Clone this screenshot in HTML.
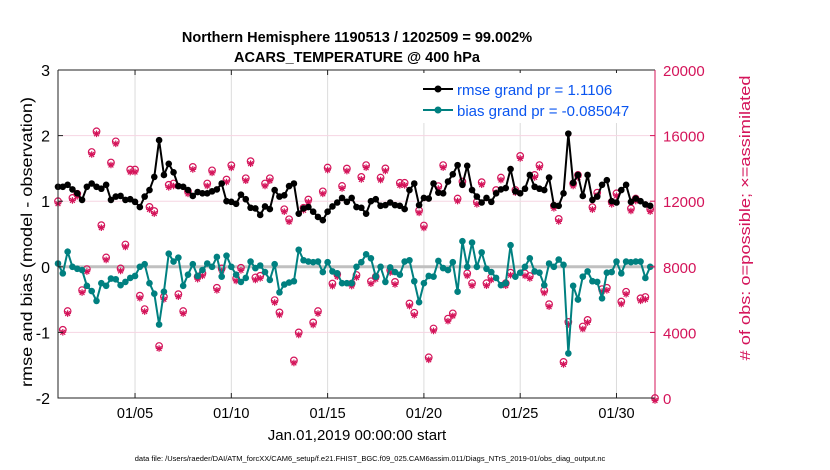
<!DOCTYPE html>
<html><head><meta charset="utf-8"><style>
body{margin:0;background:#fff;}
svg{display:block;font-family:"Liberation Sans",sans-serif;}
</style></head><body>
<svg id="chart" width="830" height="470" viewBox="0 0 830 470" xmlns="http://www.w3.org/2000/svg">
<rect x="0" y="0" width="830" height="470" fill="#fff"/>
<text x="357" y="42" text-anchor="middle" font-size="14.5" font-weight="bold">Northern Hemisphere 1190513 / 1202509 = 99.002%</text>
<text x="357" y="62" text-anchor="middle" font-size="14.5" font-weight="bold">ACARS_TEMPERATURE @ 400 hPa</text>
<g id="grid"></g>
<g id="marks"></g>
<g id="axes"></g>
<text transform="translate(32,242) rotate(-90)" text-anchor="middle" font-size="15.5" textLength="290" lengthAdjust="spacingAndGlyphs">rmse and bias (model - observation)</text>
<text transform="translate(750,218) rotate(-90)" text-anchor="middle" font-size="15" fill="#d4145a" textLength="285" lengthAdjust="spacingAndGlyphs"># of obs: o=possible; ×=assimilated</text>
<text x="357" y="440" text-anchor="middle" font-size="15">Jan.01,2019 00:00:00 start</text>
<text x="370" y="461" text-anchor="middle" font-size="7.5">data file: /Users/raeder/DAI/ATM_forcXX/CAM6_setup/f.e21.FHIST_BGC.f09_025.CAM6assim.011/Diags_NTrS_2019-01/obs_diag_output.nc</text>
<g>
<rect x="413" y="73" width="240" height="50" fill="#fff"/>
<line x1="423" y1="89" x2="453" y2="89" stroke="#000" stroke-width="2"/>
<circle cx="438" cy="89" r="3.5" fill="#000"/>
<text x="457" y="95" font-size="15" fill="#0a55f0">rmse grand pr = 1.1106</text>
<line x1="423" y1="110" x2="453" y2="110" stroke="#008080" stroke-width="2"/>
<circle cx="438" cy="110" r="3.5" fill="#008080"/>
<text x="457" y="116" font-size="15" fill="#0a55f0">bias grand pr = -0.085047</text>
</g>
</svg>
<script>
const rmse=[1.22,1.22,1.25,1.18,1.12,1.02,1.22,1.27,1.22,1.19,1.25,1.02,1.07,1.08,1.02,1.03,0.99,0.91,1.07,1.17,1.37,1.93,1.40,1.57,1.44,1.23,1.22,1.17,1.08,1.14,1.12,1.12,
1.15,1.18,1.27,1.00,0.99,0.96,1.10,1.03,0.90,0.89,0.79,0.92,0.88,1.17,1.07,1.09,1.23,1.27,0.81,0.89,0.91,0.84,0.76,0.71,0.84,0.92,0.98,1.05,0.99,1.05,0.91,
0.90,0.81,1.00,1.03,0.93,0.94,0.98,0.94,0.93,0.88,1.17,1.27,0.94,1.05,1.04,1.27,1.13,1.12,1.30,1.41,1.55,1.25,1.54,1.17,1.07,0.98,1.05,0.99,1.12,1.18,1.20,
1.49,1.15,1.12,1.19,1.40,1.22,1.19,1.17,1.36,0.94,0.93,1.12,2.03,1.28,1.40,1.08,1.40,1.02,1.07,1.25,1.32,1.00,0.98,1.17,1.25,0.99,1.04,1.00,0.95,0.93];
const bias=[0.05,-0.10,0.23,0,-0.03,-0.05,-0.29,-0.37,-0.52,-0.25,-0.29,-0.18,-0.19,-0.28,-0.23,-0.17,-0.14,0,0.04,-0.25,-0.41,-0.88,-0.38,0.20,0.08,0.14,-0.29,-0.12,0.04,-0.14,-0.05,0.05,
0,0.15,-0.15,0.17,0,-0.12,-0.23,-0.17,0.08,-0.02,0.02,-0.08,-0.20,0.04,-0.39,-0.27,-0.24,-0.22,0.26,0.10,0.08,0.07,0.08,-0.08,0.07,-0.07,-0.10,-0.25,-0.25,-0.25,0,
0.07,0.19,0.13,-0.15,0,-0.23,-0.01,-0.08,-0.12,0.08,0.10,-0.22,-0.54,-0.25,-0.14,-0.15,0.09,-0.02,-0.05,0.07,-0.38,0.39,0,0.37,0,0.22,-0.03,-0.08,-0.17,-0.28,-0.25,
0.33,-0.15,-0.09,0,0.13,-0.07,-0.09,-0.28,0.05,0,0.11,0.03,-1.32,-0.29,-0.50,-0.15,-0.07,-0.22,-0.23,-0.48,-0.09,-0.08,0.08,-0.10,0.08,0.07,0.08,0.08,-0.17,0.0];
const nposs=[12000,4160,5300,12200,12450,6580,7860,15000,16260,10540,8570,14360,15650,7900,9360,13930,13930,6240,5420,11650,11400,3170,6170,13000,13080,6330,5300,12600,14090,7400,7600,13080,
13880,6720,7900,13320,14190,7290,7940,13400,14440,7350,7450,13080,13400,5970,5220,11510,10900,2290,4000,11600,12100,4610,5300,12600,14050,6980,7550,12930,13990,6980,7500,
13480,14200,7120,7400,13440,14000,7800,7080,13120,13120,5760,5200,11440,10520,2480,4240,12920,14200,4840,5160,12160,13200,7600,7000,11960,13160,7000,7360,12680,13440,7000,
7640,12680,14760,7600,7440,13600,14200,6560,5720,11720,10920,2200,4640,13080,13600,4360,4760,11640,12520,6640,6720,11960,12480,5880,6480,11560,12160,6080,6160,11520,0];
const xTickDays=[4,9,14,19,24,29];
const xTickLabels=["01/05","01/10","01/15","01/20","01/25","01/30"];
const yTicks=[-2,-1,0,1,2,3];
const rTicks=[0,4000,8000,12000,16000,20000];

const L=58,R=655,T=70,B=398,ns="http://www.w3.org/2000/svg";
const xDay=d=>L+(d/31)*(R-L);
const xIdx=i=>xDay(i*0.25);
const yV=v=>B-(v+2)/5*(B-T);
const yObs=n=>B-n/20000*(B-T);
function mk(tag,at,parent){const e=document.createElementNS(ns,tag);for(const k in at)e.setAttribute(k,at[k]);parent.appendChild(e);return e;}
const grid=document.getElementById('grid'),marks=document.getElementById('marks'),axes=document.getElementById('axes');

xTickDays.forEach((d,k)=>{
 const g=mk('line',{x1:xDay(d),x2:xDay(d),y1:T,y2:B,stroke:'#dcdcdc','stroke-width':1},grid);
 
 
 const t=mk('line',{x1:xDay(d),x2:xDay(d),y1:T,y2:T+5,stroke:'#222'},axes);
 
 
 const t2=mk('line',{x1:xDay(d),x2:xDay(d),y1:B,y2:B-5,stroke:'#222'},axes);
 
 
 const l=mk('text',{x:xDay(d),y:B+20,'text-anchor':'middle','font-size':14.5},axes);
 l.textContent=xTickLabels[k];
 
 
});
rTicks.forEach(n=>{
 if(n>0&&n<20000&&n!==8000){const g=mk('line',{x1:L,x2:R,y1:yObs(n),y2:yObs(n),stroke:'#f6d5e2','stroke-width':1},grid);
 
 }
 const t=mk('line',{x1:R,x2:R-5,y1:yObs(n),y2:yObs(n),stroke:'#d4145a'},axes);
 
 
 const l=mk('text',{x:R+8,y:yObs(n)+6,'font-size':15,fill:'#d4145a'},axes);
 l.textContent=n;
 
 
});
const z=mk('line',{x1:L,x2:R,y1:yV(0),y2:yV(0),stroke:'#c0c0c0','stroke-width':3},grid);


yTicks.forEach(v=>{
 const t=mk('line',{x1:L,x2:L+5,y1:yV(v),y2:yV(v),stroke:'#222'},axes);
 
 
 const l=mk('text',{x:L-8,y:yV(v)+6,'text-anchor':'end','font-size':16},axes);
 l.textContent=v;
 
 
});
const lb=mk('path',{d:`M${L},${T}V${B}H${R}M${L},${T}H${R}`,stroke:'#222',fill:'none','stroke-width':1},axes);


const ra=mk('line',{x1:R,x2:R,y1:T,y2:B,stroke:'#d4145a','stroke-width':1},axes);



nposs.forEach((n,i)=>{
 const x=xIdx(i),y=yObs(n);
 const c=mk('circle',{cx:x,cy:y,r:3.3,fill:'none',stroke:'#d4145a','stroke-width':1.2},marks);
 
 
 const ay=y+2.5,s=3.3;
 const a=mk('path',{d:`M${x},${ay-s}V${ay+s}M${x-s},${ay}H${x+s}M${x-2.4},${ay-2.4}L${x+2.4},${ay+2.4}M${x-2.4},${ay+2.4}L${x+2.4},${ay-2.4}`,stroke:'#d4145a','stroke-width':1.2,fill:'none'},marks);
 
 
});
function series(arr,color,name){
 const p=mk('polyline',{points:arr.map((v,i)=>xIdx(i)+','+yV(v)).join(' '),fill:'none',stroke:color,'stroke-width':2},marks);
 
 
 arr.forEach((v,i)=>{
  const c=mk('circle',{cx:xIdx(i),cy:yV(v),r:3.3,fill:color},marks);
  
  
 });
}
series(bias,'#008080','bias');
series(rmse,'#000','rmse');
</script>
</body></html>
